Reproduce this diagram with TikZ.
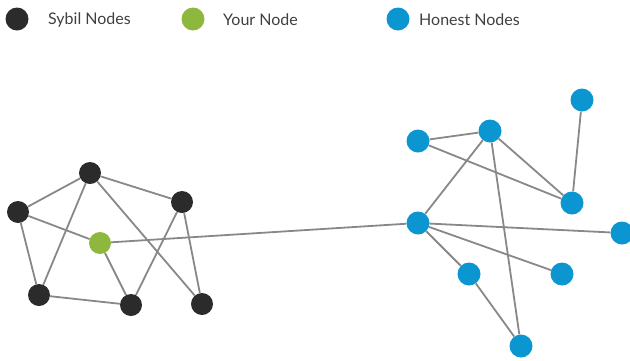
\documentclass[tikz,border=0pt]{standalone}
\usepackage{fontspec}
\setmainfont{Lato}
\definecolor{sybil}{HTML}{2B2B2B}
\definecolor{mine}{HTML}{8DB83D}
\definecolor{honest}{HTML}{0C96D1}
\definecolor{edgec}{HTML}{888888}
\definecolor{txt}{HTML}{404040}
\pgfdeclarelayer{bg}\pgfsetlayers{bg,main}
\begin{document}
\begin{tikzpicture}[x=1pt,y=-1pt,
  dot/.style={circle,inner sep=0pt,minimum size=22pt},
  sy/.style={dot,fill=sybil},
  me/.style={dot,fill=mine},
  ho/.style={dot,fill=honest,minimum size=23pt},
  lab/.style={anchor=west,text=txt,font=\fontsize{16}{18}\selectfont,inner sep=0pt},
  link/.style={draw=edgec,line width=1.8pt}]
\useasboundingbox (0,0) rectangle (630,360);
% legend
\node[sy,minimum size=23pt] (l1) at (17,19) {};
\node[lab] (t1) at (48,20) {Sybil Nodes};
\node[me,minimum size=23pt] (l2) at (193,19) {};
\node[lab] (t2) at (223,20) {Your Node};
\node[ho] (l3) at (398,19) {};
\node[lab] (t3) at (419,20) {Honest Nodes};
% sybil cluster
\node[sy] (A) at (90,173) {};
\node[sy] (B) at (18,212) {};
\node[sy] (C) at (182,202) {};
\node[sy] (D) at (39,295) {};
\node[sy] (E) at (131,305) {};
\node[sy] (F) at (202,304) {};
\node[me] (G) at (100,243) {};
% honest cluster
\node[ho] (H1) at (418,141) {};
\node[ho] (H2) at (490,131) {};
\node[ho] (H3) at (582,100) {};
\node[ho] (H4) at (572,203) {};
\node[ho] (H5) at (418,223) {};
\node[ho] (H6) at (622,233) {};
\node[ho] (H7) at (469,274) {};
\node[ho] (H8) at (562,274) {};
\node[ho] (H9) at (521,346) {};
\begin{pgfonlayer}{bg}
\draw[link] (A) -- (B);
\draw[link] (A) -- (C);
\draw[link] (A) -- (D);
\draw[link] (A) -- (F);
\draw[link] (B) -- (G);
\draw[link] (B) -- (D);
\draw[link] (G) -- (E);
\draw[link] (D) -- (E);
\draw[link] (C) -- (E);
\draw[link] (C) -- (F);
\draw[link] (G) -- (H5);
\draw[link] (H1) -- (H2);
\draw[link] (H1) -- (H4);
\draw[link] (H2) -- (H4);
\draw[link] (H3) -- (H4);
\draw[link] (H2) -- (H5);
\draw[link] (H2) -- (H9);
\draw[link] (H5) -- (H6);
\draw[link] (H5) -- (H8);
\draw[link] (H5) -- (H7);
\draw[link] (H7) -- (H9);
\end{pgfonlayer}
\end{tikzpicture}
\end{document}
